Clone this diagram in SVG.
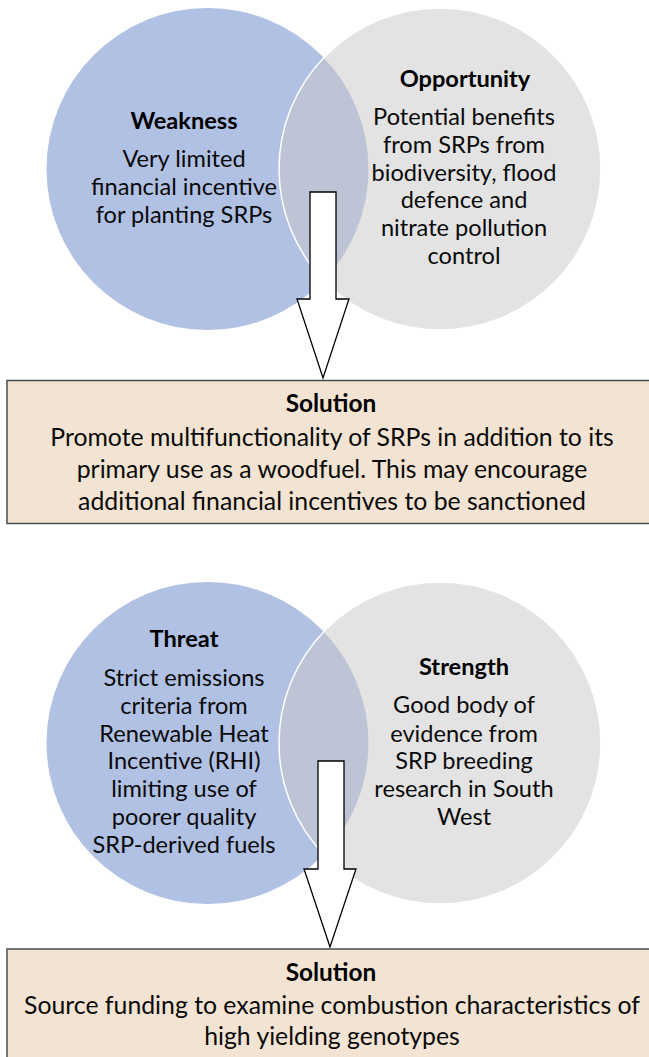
<svg xmlns="http://www.w3.org/2000/svg" width="649" height="1057" viewBox="0 0 649 1057">
  <style>
    .left { fill: #6383C9; fill-opacity: 0.5; }
    .right { fill: #C7C7C7; fill-opacity: 0.5; stroke: #FFFFFF; stroke-width: 1.5; }
    .head { font-family: Lato, "Open Sans", sans-serif; font-weight: bold; font-size: 23.6px; fill: #000000; text-anchor: middle; }
    .body { font-family: Lato, "Open Sans", sans-serif; font-size: 23.6px; fill: #0A0A0A; text-anchor: middle; }
    .box { fill: #F2E3D2; stroke: #4D4D4D; stroke-width: 1.5; }
    .bhead { font-family: Lato, "Open Sans", sans-serif; font-weight: bold; font-size: 24.4px; fill: #000000; text-anchor: middle; }
    .btext { font-family: Lato, "Open Sans", sans-serif; font-size: 24.8px; fill: #0A0A0A; text-anchor: middle; }
    .arrow { fill: #FFFFFF; stroke: #000000; stroke-width: 1.3; stroke-linejoin: miter; }
  </style>
  <rect width="649" height="1057" fill="#FFFFFF"/>

  <!-- upper Venn pair -->
  <g id="weakness">
    <circle class="left" cx="207.5" cy="169" r="161"/>
    <text class="head" x="184" y="129">Weakness</text>
    <text class="body" x="184" y="167">Very limited</text>
    <text class="body" x="184" y="195">financial incentive</text>
    <text class="body" x="184" y="223">for planting SRPs</text>
  </g>
  <g id="opportunity">
    <circle class="right" cx="440" cy="169" r="161"/>
    <text class="head" x="465" y="87">Opportunity</text>
    <text class="body" x="464" y="125">Potential benefits</text>
    <text class="body" x="464" y="153">from SRPs from</text>
    <text class="body" x="464" y="181">biodiversity, flood</text>
    <text class="body" x="464" y="208">defence and</text>
    <text class="body" x="464" y="236">nitrate pollution</text>
    <text class="body" x="464" y="264">control</text>
  </g>

  <g id="solution-1">
    <rect class="box" x="7" y="380.5" width="650" height="143"/>
    <text class="bhead" x="331" y="412">Solution</text>
    <text class="btext" x="332" y="446">Promote multifunctionality of SRPs in addition to its</text>
    <text class="btext" x="332" y="478">primary use as a woodfuel. This may encourage</text>
    <text class="btext" x="332" y="510">additional financial incentives to be sanctioned</text>
  </g>

  <!-- lower Venn pair -->
  <g id="threat">
    <circle class="left" cx="207.5" cy="743" r="161"/>
    <text class="head" x="184" y="647">Threat</text>
    <text class="body" x="184" y="686">Strict emissions</text>
    <text class="body" x="184" y="714">criteria from</text>
    <text class="body" x="184" y="742">Renewable Heat</text>
    <text class="body" x="184" y="769">Incentive (RHI)</text>
    <text class="body" x="184" y="797">limiting use of</text>
    <text class="body" x="184" y="825">poorer quality</text>
    <text class="body" x="184" y="853">SRP-derived fuels</text>
  </g>
  <g id="strength">
    <circle class="right" cx="440" cy="743" r="161"/>
    <text class="head" x="464" y="675">Strength</text>
    <text class="body" x="464" y="713">Good body of</text>
    <text class="body" x="464" y="742">evidence from</text>
    <text class="body" x="464" y="769">SRP breeding</text>
    <text class="body" x="464" y="797">research in South</text>
    <text class="body" x="464" y="825">West</text>
  </g>

  <g id="solution-2">
    <rect class="box" x="7" y="949" width="650" height="120"/>
    <text class="bhead" x="331" y="981">Solution</text>
    <text class="btext" x="332" y="1014">Source funding to examine combustion characteristics of</text>
    <text class="btext" x="332" y="1045">high yielding genotypes</text>
  </g>

  <!-- block arrows from each overlap down to its solution -->
  <g id="connectors">
    <path class="arrow" d="M310 192 H336 V299 H349 L323 378 L297 299 H310 Z"/>
    <path class="arrow" d="M318 761 H344 V869 H356 L330 947 L304 869 H318 Z"/>
  </g>
</svg>
